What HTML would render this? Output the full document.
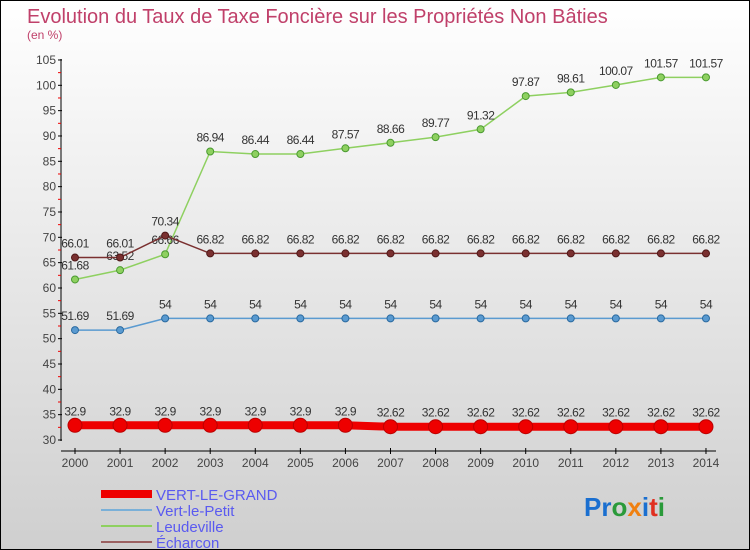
<!DOCTYPE html>
<html><head><meta charset="utf-8"><style>
body{margin:0}
#c{width:748px;height:548px;border:1px solid #000;background:linear-gradient(#fff,#cfcfcf);position:relative;font-family:"Liberation Sans",sans-serif}
svg{position:absolute;left:0;top:0}
</style></head><body>
<div id="c">
<svg id="s" width="748" height="548">
<text x="26" y="22" font-size="20" fill="#c0406a">Evolution du Taux de Taxe Foncière sur les Propriétés Non Bâties</text>
<text x="26" y="38" font-size="12" fill="#c0406a">(en %)</text>
<text x="583" y="515" font-size="26" font-weight="bold"><tspan fill="#1a6fd0">Pr</tspan><tspan fill="#2a9a3a">o</tspan><tspan fill="#f08010">x</tspan><tspan fill="#1a6fd0">i</tspan><tspan fill="#e03020">t</tspan><tspan fill="#2a9a3a">i</tspan></text>
</svg></div>
<script>
const years=[2000,2001,2002,2003,2004,2005,2006,2007,2008,2009,2010,2011,2012,2013,2014];
const vertLeGrand=[32.9,32.9,32.9,32.9,32.9,32.9,32.9,32.62,32.62,32.62,32.62,32.62,32.62,32.62,32.62];
const vertLePetit=[51.69,51.69,54,54,54,54,54,54,54,54,54,54,54,54,54];
const leudeville=[61.68,63.52,66.66,86.94,86.44,86.44,87.57,88.66,89.77,91.32,97.87,98.61,100.07,101.57,101.57];
const echarcon=[66.01,66.01,70.34,66.82,66.82,66.82,66.82,66.82,66.82,66.82,66.82,66.82,66.82,66.82,66.82];
const yTicks=[30,35,40,45,50,55,60,65,70,75,80,85,90,95,100,105];
const NS="http://www.w3.org/2000/svg",s=document.getElementById('s');
const X=i=>74+i*45.07, Y=v=>439-(v-30)*5.067;
function el(t,a,p){const e=document.createElementNS(NS,t);for(const k in a)e.setAttribute(k,a[k]);(p||s).appendChild(e);return e;}
function fmt(v){return String(v).replace('.','.');}
let e=el('line',{x1:60,y1:58,x2:60,y2:440,stroke:'#000'});


e=el('line',{x1:60,y1:450,x2:715,y2:450,stroke:'#000'});


yTicks.forEach(v=>{
 el('line',{x1:57,x2:61,y1:Y(v),y2:Y(v),stroke:'#000'});
 if(v<105)el('line',{x1:57,x2:60,y1:Y(v+2.5),y2:Y(v+2.5),stroke:'#e00'});
 const t=el('text',{x:55,y:Y(v)+4,'text-anchor':'end','font-size':12,fill:'#444'});t.textContent=v;
 
 
});
years.forEach((y,i)=>{
 el('line',{x1:X(i),x2:X(i),y1:447,y2:453,stroke:'#000'});
 const t=el('text',{x:X(i),y:466,'text-anchor':'middle','font-size':12,fill:'#444'});t.textContent=y;
 
 
});
function series(d,col,dark,w,r,name){
 const p=el('polyline',{points:d.map((v,i)=>X(i)+','+Y(v)).join(' '),fill:'none',stroke:col,'stroke-width':w});
 
 
 d.forEach((v,i)=>{
  const c=el('circle',{cx:X(i),cy:Y(v),r:r,fill:col,stroke:dark,'stroke-width':1});
  
  
  const t=el('text',{x:X(i),y:Y(v)-10,'text-anchor':'middle','font-size':12,fill:'#333','letter-spacing':'-0.5'});t.textContent=fmt(v);
  
  
 });
}
series(vertLePetit,'#5a9ad0','#2a6aa0',1.5,3.5,'vert-le-petit');
series(leudeville,'#8ed060','#4a9a30',1.5,3.5,'leudeville');
series(echarcon,'#7a3030','#501818',1.5,3.5,'echarcon');
series(vertLeGrand,'#ee0000','#bb0000',8,7,'vert-le-grand');
const leg=[['VERT-LE-GRAND','#ee0000',8],['Vert-le-Petit','#7ab0d8',2],['Leudeville','#8ed060',2],['Écharcon','#9a6060',2]];
leg.forEach((l,i)=>{
 const y=493+i*16;
 el('line',{x1:100,x2:151,y1:y,y2:y,stroke:l[1],'stroke-width':l[2]});
 const t=el('text',{x:155,y:y+6,'font-size':15,fill:'#5a5af0'});t.textContent=l[0];
 
 
});
</script>
</body></html>
